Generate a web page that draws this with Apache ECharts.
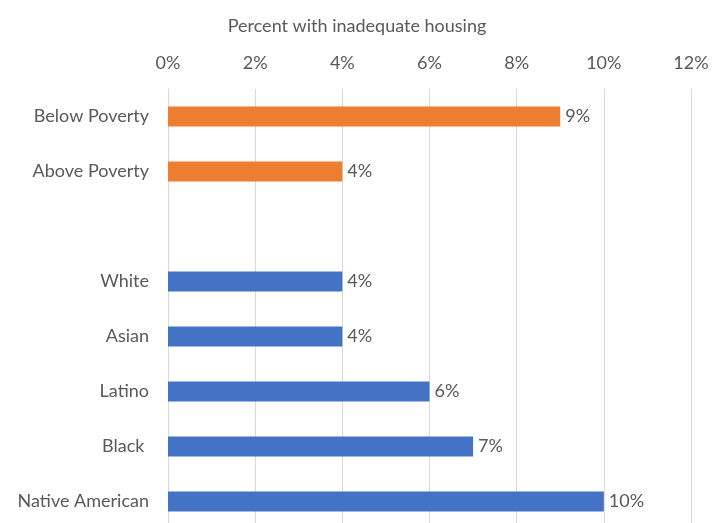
<!DOCTYPE html>
<html>
<head>
<meta charset="utf-8">
<script src="https://cdn.jsdelivr.net/npm/echarts@6/dist/echarts.min.js"></script>
<style>
  html, body { margin: 0; padding: 0; background: #fff; overflow: hidden; }
  #chart { width: 723px; height: 540px; }
</style>
</head>
<body>
<div id="chart"></div>
<script>
// Share of households with inadequate housing, by poverty status and race
const categories = ['Below Poverty', 'Above Poverty', '', 'White', 'Asian', 'Latino', 'Black ', 'Native American'];
const values = [9, 4, null, 4, 4, 6, 7, 10];
const groups = ['poverty', 'poverty', null, 'race', 'race', 'race', 'race', 'race'];
const tickValues = [0, 2, 4, 6, 8, 10, 12];

const groupColors = { poverty: '#ED7D31', race: '#4472C4' };
const textColor = '#595959';
const fontFamily = 'Lato, "Open Sans", sans-serif';
const fontSize = 18;

const chart = echarts.init(document.getElementById('chart'), null, { renderer: 'canvas' });

chart.setOption({
  animation: false,
  textStyle: { fontFamily: fontFamily },
  title: {
    text: 'Percent with inadequate housing',
    left: 352,
    top: 12,
    textAlign: 'center',
    textStyle: { color: textColor, fontSize: fontSize, fontWeight: 'normal', fontFamily: fontFamily }
  },
  grid: { left: 168, right: 32, top: 89, height: 440, containLabel: false },
  xAxis: {
    type: 'value',
    position: 'top',
    min: tickValues[0],
    max: tickValues[tickValues.length - 1],
    interval: tickValues[1] - tickValues[0],
    axisLine: { show: false },
    axisTick: { show: false },
    axisLabel: { color: textColor, fontSize: fontSize, margin: 17, formatter: '{value}%', fontFamily: fontFamily },
    splitLine: { show: true, lineStyle: { color: '#D9D9D9', width: 1 } }
  },
  yAxis: {
    type: 'category',
    data: categories,
    inverse: true,
    axisLine: { show: true, lineStyle: { color: '#D9D9D9', width: 1 } },
    axisTick: { show: false },
    axisLabel: { color: textColor, fontSize: fontSize, margin: 19, fontFamily: fontFamily }
  },
  series: [{
    type: 'bar',
    barWidth: 20,
    data: values.map((v, i) => ({
      value: v,
      itemStyle: { color: groups[i] ? groupColors[groups[i]] : 'transparent' }
    })),
    label: {
      show: true,
      position: 'right',
      distance: 5,
      color: textColor,
      fontSize: fontSize,
      fontFamily: fontFamily,
      formatter: p => (p.value == null ? '' : p.value + '%')
    }
  }]
});
</script>
</body>
</html>
